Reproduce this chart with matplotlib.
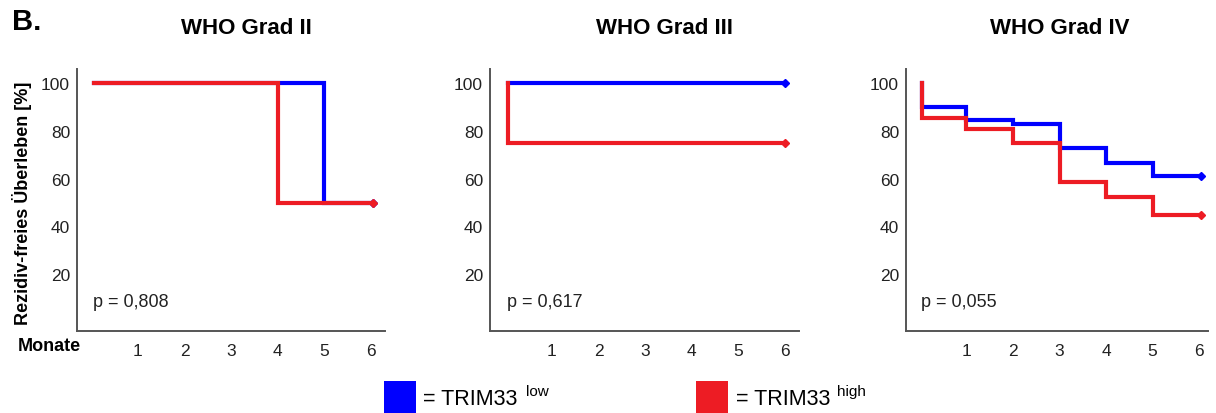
import matplotlib
matplotlib.use("Agg")
import matplotlib.pyplot as plt
from matplotlib.patches import Rectangle

plt.rcParams["font.family"] = ["Liberation Sans", "DejaVu Sans"]

BLUE = "#0000FF"
RED = "#ED1C24"

# data: months and relapse-free survival (%)
titles = ["WHO Grad II", "WHO Grad III", "WHO Grad IV"]
p_values = ["p = 0,808", "p = 0,617", "p = 0,055"]
month_ticks = [1, 2, 3, 4, 5, 6]
pct_ticks = [20, 40, 60, 80, 100]

g2_low_t = [0.05, 5, 6.05]
g2_low_s = [100, 50, 50]
g2_high_t = [0.05, 4, 6.05]
g2_high_s = [100, 50, 50]

g3_low_t = [0.05, 6.0]
g3_low_s = [100, 100]
g3_high_t = [0.05, 0.05, 6.0]
g3_high_s = [100, 75, 75]

g4_low_t = [0.04, 0.04, 1, 2, 3, 4, 5, 6.05]
g4_low_s = [100, 90, 84.5, 83, 73, 66.5, 61, 61]
g4_high_t = [0.04, 0.04, 1, 2, 3, 4, 5, 6.05]
g4_high_s = [100, 85.5, 81, 75, 58.5, 52.5, 45, 45]

curves = [
    ((g2_low_t, g2_low_s), (g2_high_t, g2_high_s)),
    ((g3_low_t, g3_low_s), (g3_high_t, g3_high_s)),
    ((g4_low_t, g4_low_s), (g4_high_t, g4_high_s)),
]

fig = plt.figure(figsize=(12.16, 4.14), dpi=100)

# axes boxes in pixels (left, right) and x-limits per panel
boxes = [(77, 385), (490, 799), (906, 1208)]
xlims = [(-0.31, 6.31), (-0.33, 6.3), (-0.3, 6.19)]
title_x = [246, 664, 1060]
W, H = 1216, 414
bottom = 1 - 332 / H
top = 1 - 70 / H

for i, ((lo, hi), (x0, x1)) in enumerate(zip(curves, boxes)):
    ax = fig.add_axes([x0 / W, bottom, (x1 - x0) / W, top - bottom])
    for (t, s), c in ((lo, BLUE), (hi, RED)):
        ax.step(t, s, where="post", color=c, lw=3.0, solid_joinstyle="miter")
        ax.plot(t[-1], s[-1], marker="D", ms=4.5, color=c, clip_on=False)
    ax.set_xlim(*xlims[i])
    ax.set_ylim(-3.8, 106)
    ax.set_xticks(month_ticks)
    ax.set_yticks(pct_ticks)
    ax.tick_params(length=0, labelsize=12.5, colors="#222222")
    ax.tick_params(axis="x", pad=9)
    ax.tick_params(axis="y", pad=5)
    for side in ("top", "right"):
        ax.spines[side].set_visible(False)
    for side in ("left", "bottom"):
        ax.spines[side].set_color("#555555")
        ax.spines[side].set_linewidth(1.4)
    ax.text(0.03, 8.4, p_values[i], fontsize=13, va="center", ha="left", color="#222222")
    fig.text(title_x[i] / W, 1 - 28 / H, titles[i], fontsize=16, fontweight="bold",
             ha="center", va="center")

fig.text(12 / W, 1 - 22 / H, "B.", fontsize=21, fontweight="bold", ha="left", va="center")
fig.text(22 / W, 1 - 203 / H, "Rezidiv-freies Überleben [%]", fontsize=13, fontweight="bold",
         rotation=90, ha="center", va="center")
fig.text(18 / W, 1 - 347 / H, "Monate", fontsize=13, fontweight="bold", ha="left", va="center")

# legend
for sx, color, label, sup, tx, supx in (
    (384, BLUE, "= TRIM33", "low", 423, 526),
    (696, RED, "= TRIM33", "high", 736, 837),
):
    fig.patches.append(Rectangle((sx / W, 0), 32 / W, 32 / H, transform=fig.transFigure,
                                 facecolor=color, edgecolor="none"))
    fig.text(tx / W, 1 - 405 / H, label, fontsize=15.5, ha="left", va="baseline")
    fig.text(supx / W, 1 - 396 / H, sup, fontsize=11, ha="left", va="baseline")

fig.savefig("out.png", dpi=100)
